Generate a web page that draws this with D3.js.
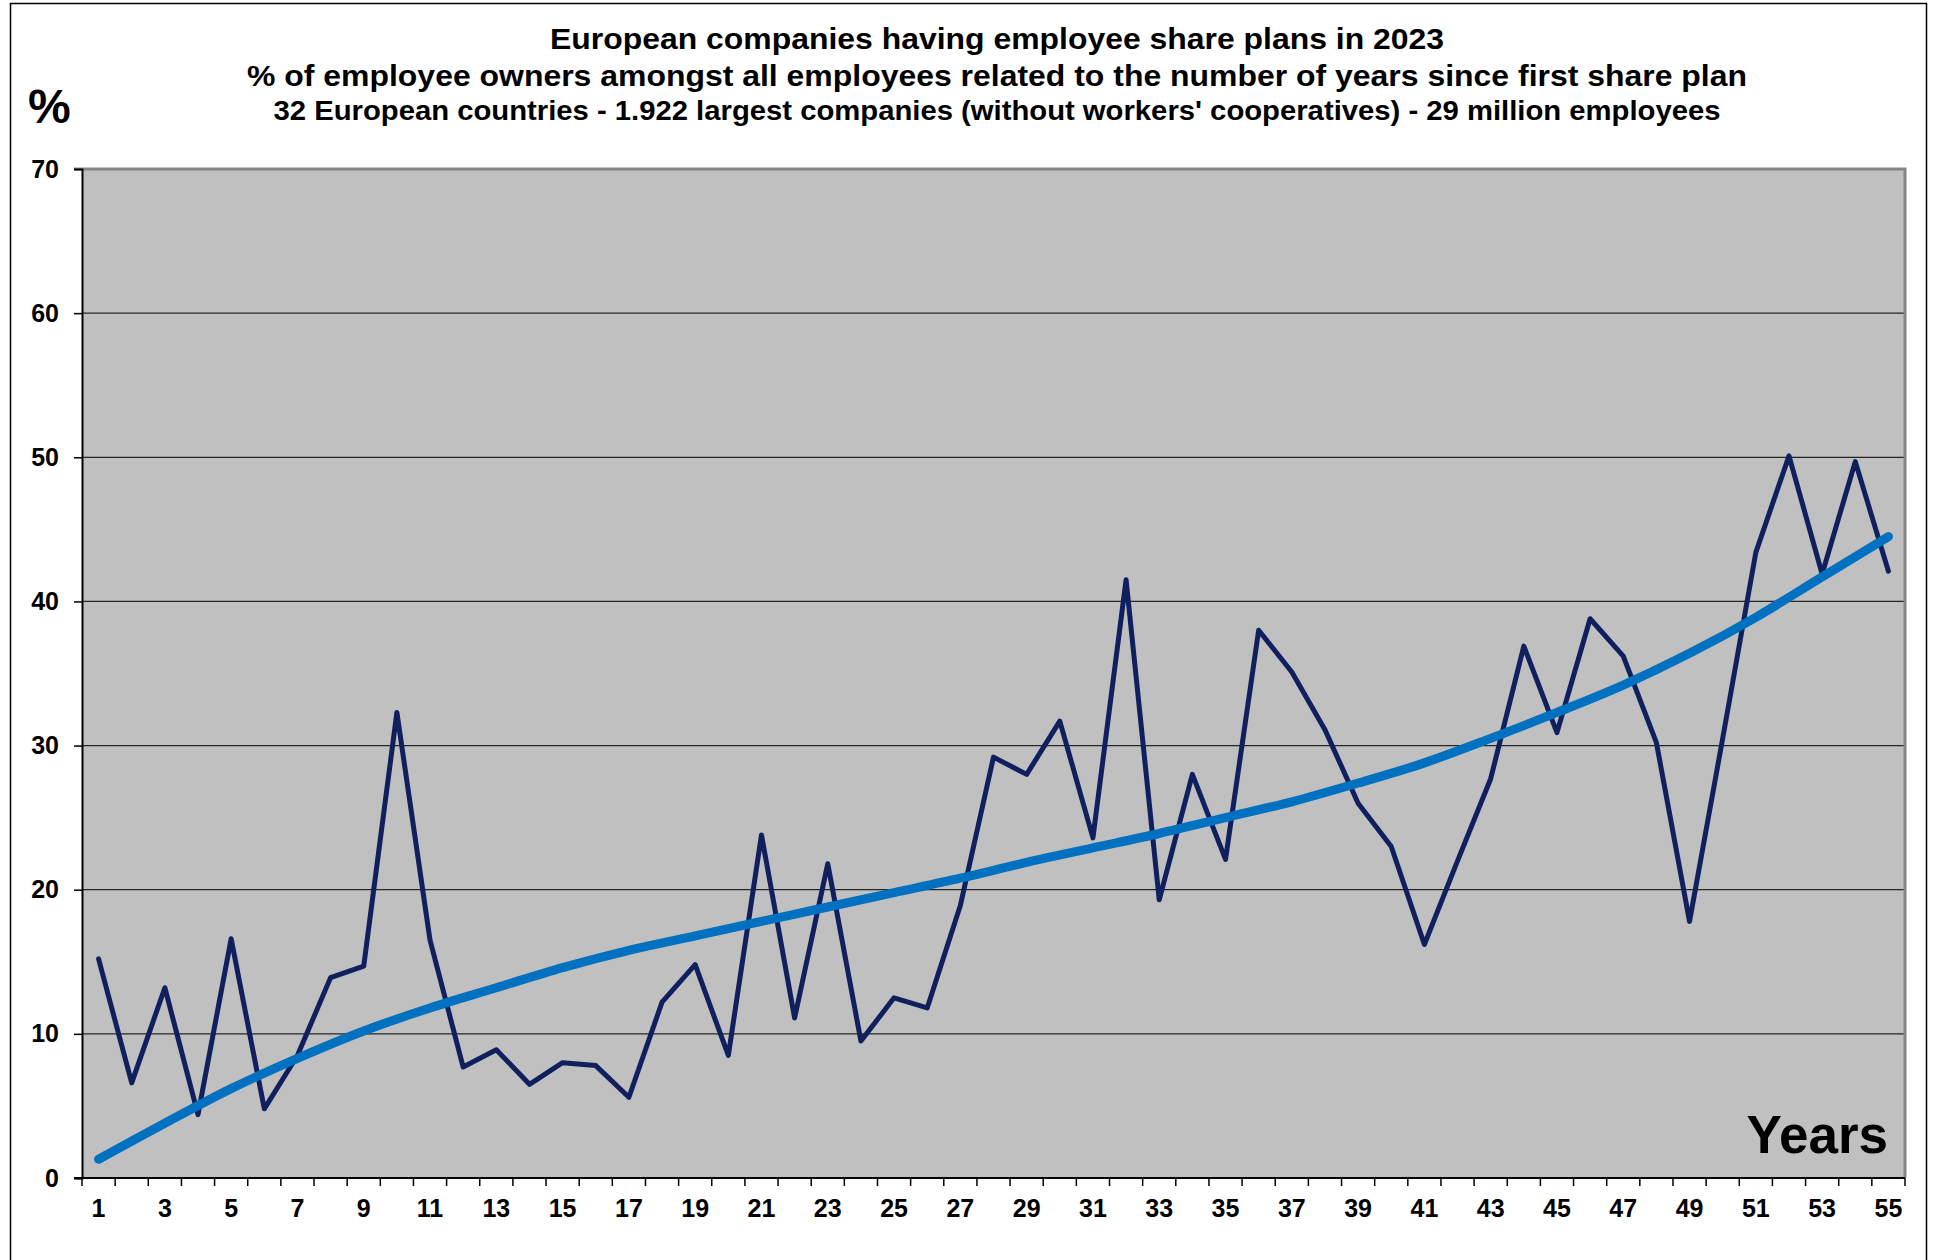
<!DOCTYPE html>
<html>
<head>
<meta charset="utf-8">
<script src="https://cdn.jsdelivr.net/npm/d3@7"></script>
<style>
  body { margin: 0; background: #fff; }
  text { font-family: "Liberation Sans", Arial, sans-serif; font-weight: bold; }
</style>
</head>
<body>
<svg id="drawing-area"></svg>
<script>
/*
 Employee owners by years since first share plan, with its trend curve.
*/
var width = 1934;
var height = 1260;

// years since first share plan
var years = d3.range(1, 56);
// % of employee owners amongst all employees
var owners = [15.2, 6.6, 13.2, 4.4, 16.6, 4.8, 8.5, 13.9, 14.7, 32.3,
              16.5, 7.7, 8.9, 6.5, 8.0, 7.8, 5.6, 12.2, 14.8, 8.5,
              23.8, 11.1, 21.8, 9.5, 12.5, 11.8, 18.9, 29.2, 28.0, 31.7,
              23.6, 41.5, 19.3, 28.0, 22.1, 38.0, 35.1, 31.1, 26.0, 23.0,
              16.2, 22.0, 27.7, 36.9, 30.9, 38.8, 36.2, 30.2, 17.8, 30.5,
              43.4, 50.1, 41.9, 49.7, 42.1];
// trend curve read at the odd years
var trendYears = [1, 3, 5, 7, 9, 11, 13, 15, 17, 19, 21, 23, 25, 27,
                  29, 31, 33, 35, 37, 39, 41, 43, 45, 47, 49, 51, 53, 55];
var trend = [1.3, 3.8, 6.2, 8.3, 10.2, 11.8, 13.2, 14.6, 15.8, 16.8,
             17.8, 18.8, 19.8, 20.8, 21.9, 22.9, 23.9, 25.0, 26.1, 27.4,
             28.8, 30.5, 32.3, 34.2, 36.4, 38.9, 41.7, 44.5];
var yTicks = [0, 10, 20, 30, 40, 50, 60, 70];
var xLabels = years.filter(function(d){ return d % 2 == 1; });

var titles = [
    "European companies having employee share plans in 2023",
    "% of employee owners amongst all employees related to the number of years since first share plan",
    "32 European countries - 1.922 largest companies (without workers' cooperatives) - 29 million employees"
];

var plotLeft = 82, plotRight = 1905, plotTop = 169, plotBottom = 1178;

var svg = d3.select("#drawing-area")
    .attr("width", width)
    .attr("height", height);

// outer frame of the chart
svg.append("rect")
    .attr("x", 10.5).attr("y", 3.5)
    .attr("width", 1916).attr("height", 1300)
    .attr("fill", "#fff")
    .attr("stroke", "#000")
    .attr("stroke-width", 1.5);

var x = d3.scalePoint()
    .domain(years)
    .range([plotLeft, plotRight])
    .padding(0.5);

var band = d3.scaleBand()
    .domain(years)
    .range([plotLeft, plotRight]);

var y = d3.scaleLinear()
    .domain([0, 70])
    .range([plotBottom, plotTop]);

// plot area
svg.append("rect")
    .attr("x", plotLeft).attr("y", plotTop)
    .attr("width", plotRight - plotLeft).attr("height", plotBottom - plotTop)
    .attr("fill", "#c0c0c0");

// gridlines
svg.append("g")
    .selectAll("line")
    .data(yTicks.filter(function(d){ return d > 0 && d < 70; }))
    .enter()
    .append("line")
    .attr("x1", plotLeft).attr("x2", plotRight)
    .attr("y1", function(d){ return y(d); })
    .attr("y2", function(d){ return y(d); })
    .attr("stroke", "#262626")
    .attr("stroke-width", 1.3);

// grey border top and right
svg.append("path")
    .attr("d", "M" + (plotLeft - 8) + "," + plotTop + "H" + plotRight + "V" + plotBottom)
    .attr("fill", "none")
    .attr("stroke", "#858585")
    .attr("stroke-width", 3);

// y axis
var yAxis = svg.append("g")
    .attr("transform", "translate(" + plotLeft + ",0)")
    .call(d3.axisLeft(y).tickValues(yTicks).tickSize(8).tickPadding(15));
yAxis.select(".domain").attr("stroke", "#000").attr("stroke-width", 2);
yAxis.selectAll(".tick line").attr("stroke", "#000").attr("stroke-width", 1.5);
yAxis.selectAll(".tick text")
    .attr("fill", "#000")
    .style("font-size", "25px")
    .style("font-family", "Liberation Sans, Arial, sans-serif")
    .style("font-weight", "bold");
yAxis.selectAll(".tick").filter(function(d){ return d == 70; }).select("line").remove();

// x axis: ticks between categories, labels on odd years
var bounds = years.map(function(d){ return band(d); }).concat([plotRight]);
svg.append("line")
    .attr("x1", plotLeft - 8).attr("x2", plotRight)
    .attr("y1", plotBottom).attr("y2", plotBottom)
    .attr("stroke", "#000")
    .attr("stroke-width", 2);
svg.append("g")
    .selectAll("line")
    .data(bounds)
    .enter()
    .append("line")
    .attr("x1", function(d){ return d; })
    .attr("x2", function(d){ return d; })
    .attr("y1", plotBottom).attr("y2", plotBottom + 8)
    .attr("stroke", "#000")
    .attr("stroke-width", 1.5);
svg.append("g")
    .selectAll("text")
    .data(xLabels)
    .enter()
    .append("text")
    .text(function(d){ return d; })
    .attr("x", function(d){ return x(d); })
    .attr("y", 1217)
    .style("text-anchor", "middle")
    .style("font-size", "25px");

// series line
var line = d3.line()
    .x(function(d, i){ return x(years[i]); })
    .y(function(d){ return y(d); });

svg.append("path")
    .datum(owners)
    .attr("d", line)
    .attr("fill", "none")
    .attr("stroke", "#101f5e")
    .attr("stroke-width", 5)
    .attr("stroke-linejoin", "round")
    .attr("stroke-linecap", "round");

// trend curve
var trendLine = d3.line()
    .curve(d3.curveMonotoneX)
    .x(function(d, i){ return x(trendYears[i]); })
    .y(function(d){ return y(d); });

svg.append("path")
    .datum(trend)
    .attr("d", trendLine)
    .attr("fill", "none")
    .attr("stroke", "#0070c0")
    .attr("stroke-width", 9)
    .attr("stroke-linecap", "round");

// titles, stretched a bit to the width they have in the original
svg.append("g")
    .selectAll("text")
    .data(titles)
    .enter()
    .append("text")
    .text(function(d){ return d; })
    .attr("x", 997)
    .attr("y", function(d, i){ return [49, 86, 120][i]; })
    .attr("textLength", function(d, i){ return [894, 1500, 1447][i]; })
    .attr("lengthAdjust", "spacingAndGlyphs")
    .style("text-anchor", "middle")
    .style("font-size", function(d, i){ return [30, 30, 28][i] + "px"; });

svg.append("text")
    .text("%")
    .attr("x", 28)
    .attr("y", 123)
    .style("font-size", "48px");

svg.append("text")
    .text("Years")
    .attr("x", 1888)
    .attr("y", 1153)
    .style("text-anchor", "end")
    .style("font-size", "53px");
</script>
</body>
</html>
